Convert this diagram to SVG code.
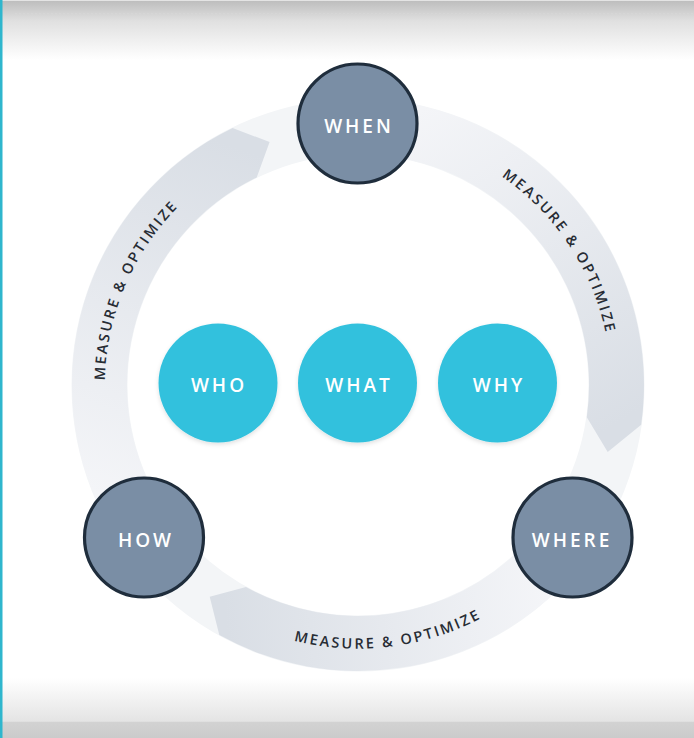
<svg xmlns="http://www.w3.org/2000/svg" width="694" height="738" viewBox="0 0 694 738">
<defs>
<style>
.gnode{fill:#7a8ea5;stroke:#1f2d3c;stroke-width:3.2}
.cnode{fill:#33c1dd}
.nlabel{font-family:"Open Sans","Liberation Sans",sans-serif;font-size:19px;font-weight:600;fill:#ffffff;letter-spacing:3px;text-anchor:middle}
.arcl{font-family:"Open Sans","Liberation Sans",sans-serif;font-size:14.5px;font-weight:600;fill:#272c34;letter-spacing:2.3px;text-anchor:middle}
</style>
<linearGradient id="topg" x1="0" y1="0" x2="0" y2="1">
<stop offset="0" stop-color="#bcbcbc"/>
<stop offset="0.35" stop-color="#e0e0e0"/>
<stop offset="1" stop-color="#ffffff"/>
</linearGradient>
<linearGradient id="botg" x1="0" y1="0" x2="0" y2="1">
<stop offset="0" stop-color="#ffffff"/>
<stop offset="0.72" stop-color="#e4e4e4"/>
<stop offset="0.74" stop-color="#d2d2d2"/>
<stop offset="1" stop-color="#cbcbcb"/>
</linearGradient>
<linearGradient id="a1" gradientUnits="userSpaceOnUse" x1="120" y1="500" x2="245" y2="150">
<stop offset="0" stop-color="#f4f5f8"/>
<stop offset="1" stop-color="#d9dee5"/>
</linearGradient>
<linearGradient id="a2" gradientUnits="userSpaceOnUse" x1="420" y1="110" x2="615" y2="425">
<stop offset="0" stop-color="#f4f5f8"/>
<stop offset="1" stop-color="#d9dee5"/>
</linearGradient>
<linearGradient id="a3" gradientUnits="userSpaceOnUse" x1="545" y1="575" x2="225" y2="615">
<stop offset="0" stop-color="#f4f5f8"/>
<stop offset="1" stop-color="#d9dee5"/>
</linearGradient>
<filter id="sh" x="-20%" y="-20%" width="140%" height="140%">
<feDropShadow dx="0" dy="2" stdDeviation="2" flood-color="#000000" flood-opacity="0.12"/>
</filter>
<path id="tpL" d="M 115.6 459.1 A 255 255 0 0 1 242.9 159.1"/>
<path id="tpR" d="M 430 141.9 A 255 255 0 0 1 609.9 413.7"/>
<path id="tpB" d="M 214.5 606 A 263 263 0 0 0 550.7 564.7"/>
</defs>
<rect x="0" y="0" width="694" height="738" fill="#ffffff"/>
<rect x="0" y="0" width="694" height="60" fill="url(#topg)"/>
<line x1="0" y1="0.5" x2="694" y2="0.5" stroke="#e4e4e4" stroke-width="1"/>
<line x1="15" y1="13.5" x2="694" y2="13.5" stroke="#d6d6d6" stroke-width="1" stroke-dasharray="2 2"/>
<rect x="0" y="678" width="694" height="60" fill="url(#botg)"/>
<rect x="0" y="0" width="2.5" height="738" fill="#2fb6cd"/>

<g id="ring">
<circle cx="358" cy="385" r="258.5" fill="none" stroke="#f3f5f7" stroke-width="56"/>
</g>

<g id="connectors">
<g id="arrow-how-when">
<path d="M 110.3 528 A 286 286 0 0 1 232.6 127.9 L 269.6 142.1 L 256.7 177.4 A 231 231 0 0 0 157.9 500.5 Z" fill="url(#a1)"/>
<text class="arcl"><textPath href="#tpL" startOffset="50%">MEASURE &amp; OPTIMIZE</textPath></text>
</g>
<g id="arrow-when-where">
<path d="M 397.8 101.8 A 286 286 0 0 1 641.2 424.8 L 607.7 451.9 L 586.8 417.2 A 231 231 0 0 0 390.2 156.2 Z" fill="url(#a2)"/>
<text class="arcl"><textPath href="#tpR" startOffset="50%">MEASURE &amp; OPTIMIZE</textPath></text>
</g>
<g id="arrow-where-how">
<path d="M 563.7 583.7 A 286 286 0 0 1 219.3 635.1 L 209.7 596.8 L 246 587 A 231 231 0 0 0 524.2 545.5 Z" fill="url(#a3)"/>
<text class="arcl"><textPath href="#tpB" startOffset="50%">MEASURE &amp; OPTIMIZE</textPath></text>
</g>
</g>

<g id="node-when">
<circle class="gnode" cx="357.5" cy="123.5" r="59.5"/>
<text class="nlabel" x="359" y="133">WHEN</text>
</g>
<g id="node-how">
<circle class="gnode" cx="144" cy="537.5" r="59.5"/>
<text class="nlabel" x="146" y="547">HOW</text>
</g>
<g id="node-where">
<circle class="gnode" cx="572.5" cy="537.5" r="59.5"/>
<text class="nlabel" x="572" y="547">WHERE</text>
</g>
<g id="node-who">
<circle class="cnode" cx="218" cy="383" r="59.5" filter="url(#sh)"/>
<text class="nlabel" x="219" y="392">WHO</text>
</g>
<g id="node-what">
<circle class="cnode" cx="357.5" cy="383" r="59.5" filter="url(#sh)"/>
<text class="nlabel" x="359" y="392">WHAT</text>
</g>
<g id="node-why">
<circle class="cnode" cx="497.5" cy="383" r="59.5" filter="url(#sh)"/>
<text class="nlabel" x="499" y="392">WHY</text>
</g>
</svg>
